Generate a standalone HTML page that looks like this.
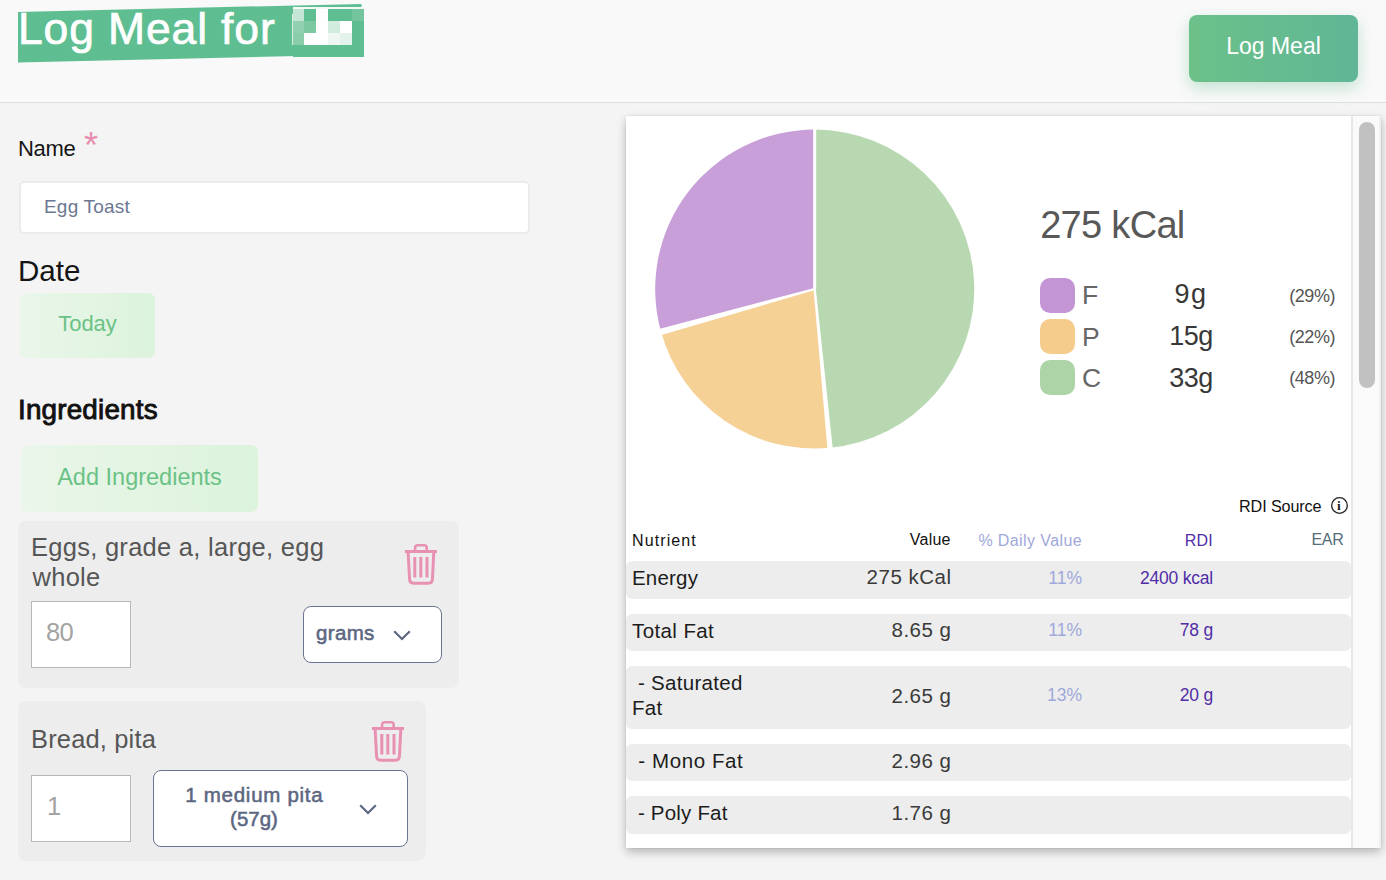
<!DOCTYPE html>
<html><head><meta charset="utf-8">
<style>
*{box-sizing:border-box;margin:0;padding:0}
html,body{width:1386px;height:880px;overflow:hidden;background:#f4f4f4;font-family:"Liberation Sans",sans-serif}
.t{position:absolute;white-space:nowrap;line-height:1}
.ab{position:absolute}
.mz{position:absolute}
#hdr{position:absolute;left:0;top:0;width:1386px;height:103px;background:#f9f9f9;border-bottom:1px solid #dedede}
#logbtn{position:absolute;left:1189px;top:15px;width:169px;height:67px;border-radius:8px;background:linear-gradient(90deg,#6cc189,#60b695);box-shadow:0 6px 16px rgba(96,182,140,.35)}
#nameinp{position:absolute;left:19px;top:181px;width:511px;height:53px;background:#fff;border:2px solid #ebebeb;border-radius:5px}
.gbtn{position:absolute;border-radius:7px;background:linear-gradient(90deg,#eaf6ea,#dcf3dc)}
.card{position:absolute;background:#ededed;border-radius:8px}
.qty{position:absolute;background:#fff;border:1.2px solid #b8b8b8}
.sel{position:absolute;background:#fff;border:1.3px solid #6b7590;border-radius:8px}
#panel{position:absolute;left:626px;top:116px;width:755px;height:732px;background:#fff;box-shadow:0 4px 9px rgba(0,0,0,.26),0 0 2px rgba(0,0,0,.10)}
.row{position:absolute;left:626px;width:725px;background:#ededed;border-radius:6px}
.sw{position:absolute;left:1040px;width:35px;height:34.5px;border-radius:10px}
</style></head><body>
<div id="hdr"></div>
<svg class="ab" style="left:0;top:0" width="400" height="70"><polygon points="18,11.9 361.5,3.9 361.5,54.6 18,62.6" fill="#5fbe91"/></svg>
<div class="mz" style="left:293px;top:9px;width:11px;height:12px;background:#c6e6d5"></div>
<div class="mz" style="left:304px;top:9px;width:12px;height:12px;background:#5fbe91"></div>
<div class="mz" style="left:316px;top:9px;width:12px;height:12px;background:#fdfefd"></div>
<div class="mz" style="left:328px;top:9px;width:12px;height:12px;background:#5fbe91"></div>
<div class="mz" style="left:340px;top:9px;width:12px;height:12px;background:#5fbe91"></div>
<div class="mz" style="left:352px;top:9px;width:12px;height:12px;background:#72c59d"></div>
<div class="mz" style="left:293px;top:21px;width:11px;height:12px;background:#91d1b1"></div>
<div class="mz" style="left:304px;top:21px;width:12px;height:12px;background:#7bc8a1"></div>
<div class="mz" style="left:316px;top:21px;width:12px;height:12px;background:#ffffff"></div>
<div class="mz" style="left:328px;top:21px;width:12px;height:12px;background:#d3ece0"></div>
<div class="mz" style="left:340px;top:21px;width:12px;height:12px;background:#ffffff"></div>
<div class="mz" style="left:352px;top:21px;width:12px;height:12px;background:#5fbe91"></div>
<div class="mz" style="left:293px;top:33px;width:11px;height:12px;background:#89cdaa"></div>
<div class="mz" style="left:304px;top:33px;width:12px;height:12px;background:#ffffff"></div>
<div class="mz" style="left:316px;top:33px;width:12px;height:12px;background:#ffffff"></div>
<div class="mz" style="left:328px;top:33px;width:12px;height:12px;background:#eef7f2"></div>
<div class="mz" style="left:340px;top:33px;width:12px;height:12px;background:#e3f2ea"></div>
<div class="mz" style="left:352px;top:33px;width:12px;height:12px;background:#5fbe91"></div>
<div class="mz" style="left:293px;top:45px;width:11px;height:12px;background:#5fbe91"></div>
<div class="mz" style="left:304px;top:45px;width:12px;height:12px;background:#5fbe91"></div>
<div class="mz" style="left:316px;top:45px;width:12px;height:12px;background:#5fbe91"></div>
<div class="mz" style="left:328px;top:45px;width:12px;height:12px;background:#5fbe91"></div>
<div class="mz" style="left:340px;top:45px;width:12px;height:12px;background:#5fbe91"></div>
<div class="mz" style="left:352px;top:45px;width:12px;height:12px;background:#5fbe91"></div>
<div class="mz" style="left:293px;top:7px;width:71px;height:2px;background:#f3faf6"></div>
<div class="mz" style="left:292px;top:14px;width:1px;height:31px;background:rgba(255,255,255,.75)"></div>
<div id="logbtn"></div>
<div id="nameinp"></div>
<div class="gbtn" style="left:20px;top:293px;width:135px;height:65px"></div>
<div class="gbtn" style="left:21px;top:445px;width:237px;height:67px"></div>
<div class="card" style="left:18px;top:521px;width:441px;height:167px"></div>
<div class="qty" style="left:31px;top:601px;width:100px;height:67px"></div>
<div class="sel" style="left:303px;top:606px;width:139px;height:57px"></div>
<svg class="ab" style="left:404px;top:543px" width="34" height="44" viewBox="0 0 34 44" fill="none" stroke="#e991b2">
<path d="M0.9,8.4 H33" stroke-width="3"/>
<path d="M11.1,7.2 V4.8 Q11.1,2.2 13.7,2.2 H20.1 Q22.7,2.2 22.7,4.8 V7.2" stroke-width="2.6"/>
<path d="M4.1,9.5 L5.6,36.5 Q5.9,40.3 9.5,40.3 H24.5 Q28.1,40.3 28.4,36.5 L29.8,9.5" stroke-width="3"/>
<path d="M10.8,14 V34.6 M16.8,14 V34.6 M23,14 V34.6" stroke-width="3"/>
</svg>
<svg class="ab" style="left:393px;top:630px" width="18" height="11" viewBox="0 0 18 11" fill="none" stroke="#5d6781" stroke-width="2.2"><path d="M1.2,1.2 L9,9 L16.8,1.2"/></svg>
<div class="card" style="left:18px;top:701px;width:408px;height:160px"></div>
<div class="qty" style="left:31px;top:775px;width:100px;height:67px"></div>
<div class="sel" style="left:153px;top:770px;width:255px;height:77px"></div>
<svg class="ab" style="left:370.6px;top:719.6px" width="34" height="44" viewBox="0 0 34 44" fill="none" stroke="#e991b2">
<path d="M0.9,8.4 H33" stroke-width="3"/>
<path d="M11.1,7.2 V4.8 Q11.1,2.2 13.7,2.2 H20.1 Q22.7,2.2 22.7,4.8 V7.2" stroke-width="2.6"/>
<path d="M4.1,9.5 L5.6,36.5 Q5.9,40.3 9.5,40.3 H24.5 Q28.1,40.3 28.4,36.5 L29.8,9.5" stroke-width="3"/>
<path d="M10.8,14 V34.6 M16.8,14 V34.6 M23,14 V34.6" stroke-width="3"/>
</svg>
<svg class="ab" style="left:359px;top:804px" width="18" height="11" viewBox="0 0 18 11" fill="none" stroke="#5d6781" stroke-width="2.2"><path d="M1.2,1.2 L9,9 L16.8,1.2"/></svg>
<div id="panel"></div>
<svg class="ab" style="left:0;top:0" width="1386" height="880">
<path d="M814.7,289.1 L814.70,129.60 A159.5,159.5 0 0 1 829.99,447.87 Z" fill="#b8d8b2"/>
<path d="M814.7,289.1 L829.99,447.87 A159.5,159.5 0 0 1 661.00,331.72 Z" fill="#f6d196"/>
<path d="M814.7,289.1 L661.00,331.72 A159.5,159.5 0 0 1 814.70,129.60 Z" fill="#c89fd8"/>
<polygon points="816.20,289.10 816.20,126.60 813.20,126.60 813.20,289.10" fill="#fff"/>
<polygon points="813.56,289.21 827.59,451.11 832.96,450.59 815.84,288.99" fill="#fff"/>
<polygon points="814.42,288.09 657.24,329.39 658.98,335.66 814.98,290.11" fill="#fff"/>
<circle cx="1339.5" cy="505.5" r="7.8" fill="none" stroke="#222" stroke-width="1.3"/>
</svg>
<div class="sw" style="top:278px;background:#c495d5"></div>
<div class="sw" style="top:319px;background:#f6cc8c"></div>
<div class="sw" style="top:360px;background:#acd4a6"></div>
<div class="row" style="top:561px;height:38px"></div>
<div class="row" style="top:614px;height:37px"></div>
<div class="row" style="top:666px;height:63px"></div>
<div class="row" style="top:744px;height:37px"></div>
<div class="row" style="top:796px;height:38px"></div>
<div class="ab" style="left:1351px;top:116px;width:30px;height:732px;background:#fafafa;border-left:2px solid #e7e7e7;border-right:2px solid #efefef"></div>
<div class="ab" style="left:1359px;top:122px;width:16px;height:266px;border-radius:8px;background:#c1c1c1"></div>
<div class="t" id="title" style="left:18px;top:6.63px;font-size:44.5px;color:#fff;letter-spacing:0.85px;-webkit-text-stroke:0.7px #fff">Log Meal for</div>
<div class="t" id="btn" style="left:1189px;top:35.33px;font-size:23px;color:#fff;width:169px;text-align:center;">Log Meal</div>
<div class="t" id="name" style="left:18px;top:138.08px;font-size:22px;color:#151515;letter-spacing:-0.3px">Name</div>
<div class="t" id="ast" style="left:84px;top:128.33px;font-size:36px;color:#e88db0;">*</div>
<div class="t" id="egg" style="left:44px;top:196.92px;font-size:19px;color:#6b7890;letter-spacing:0.2px">Egg Toast</div>
<div class="t" id="date" style="left:18px;top:255.73px;font-size:29.5px;color:#151515;letter-spacing:0px">Date</div>
<div class="t" id="today" style="left:20px;top:313.38px;font-size:22px;color:#6bc286;width:135px;text-align:center;">Today</div>
<div class="t" id="ingr" style="left:18px;top:395.67px;font-size:27.8px;color:#111;-webkit-text-stroke:0.9px #111;letter-spacing:0.2px">Ingredients</div>
<div class="t" id="add" style="left:21px;top:465.71px;font-size:23.5px;color:#6bc286;width:237px;text-align:center;letter-spacing:0px">Add Ingredients</div>
<div class="t" id="eggs" style="left:31px;top:534.81px;font-size:25.5px;color:#565656;letter-spacing:0.27px">Eggs, grade a, large, egg</div>
<div class="t" id="whole" style="left:32.5px;top:565.41px;font-size:25.5px;color:#565656;letter-spacing:0.27px">whole</div>
<div class="t" id="q80" style="left:46px;top:619.51px;font-size:25.5px;color:#a3a3a3;letter-spacing:-0.8px">80</div>
<div class="t" id="grams" style="left:316px;top:623.45px;font-size:20.5px;color:#5d6781;-webkit-text-stroke:0.55px #5d6781;letter-spacing:0.35px">grams</div>
<div class="t" id="bread" style="left:31px;top:726.71px;font-size:25.5px;color:#565656;letter-spacing:0.15px">Bread, pita</div>
<div class="t" id="q1" style="left:47px;top:793.81px;font-size:25.5px;color:#a3a3a3;">1</div>
<div class="t" id="pita1" style="left:154px;top:785.05px;font-size:20.5px;color:#5d6781;width:200.7px;text-align:center;-webkit-text-stroke:0.55px #5d6781;letter-spacing:0.72px">1 medium pita</div>
<div class="t" id="pita2" style="left:154px;top:809.35px;font-size:20.5px;color:#5d6781;width:200px;text-align:center;-webkit-text-stroke:0.55px #5d6781">(57g)</div>
<div class="t" id="kcal" style="left:1040.2px;top:205.83px;font-size:38px;color:#585858;letter-spacing:-0.7px">275 kCal</div>
<div class="t" id="legF" style="left:1082px;top:281.87px;font-size:26.5px;color:#666;">F</div>
<div class="t" id="legP" style="left:1082px;top:323.67px;font-size:26.5px;color:#666;">P</div>
<div class="t" id="legC" style="left:1082px;top:364.77px;font-size:26.5px;color:#666;">C</div>
<div class="t" id="val9g" style="left:1150px;top:281.44px;font-size:27px;color:#383838;width:82px;text-align:center;letter-spacing:1.6px">9g</div>
<div class="t" id="val15g" style="left:1150px;top:323.24px;font-size:27px;color:#383838;width:82px;text-align:center;letter-spacing:-0.5px">15g</div>
<div class="t" id="val33g" style="left:1150px;top:364.64px;font-size:27px;color:#383838;width:82px;text-align:center;letter-spacing:-0.5px">33g</div>
<div class="t" id="pct(29%)" style="left:1250px;top:286.76px;font-size:18px;color:#555;width:85px;text-align:right;letter-spacing:-0.45px">(29%)</div>
<div class="t" id="pct(22%)" style="left:1250px;top:327.66px;font-size:18px;color:#555;width:85px;text-align:right;letter-spacing:-0.45px">(22%)</div>
<div class="t" id="pct(48%)" style="left:1250px;top:369.46px;font-size:18px;color:#555;width:85px;text-align:right;letter-spacing:-0.45px">(48%)</div>
<div class="t" id="rdisrc" style="left:1239px;top:498.29px;font-size:16.2px;color:#111;letter-spacing:-0.12px">RDI Source</div>
<div class="t" id="hN" style="left:632px;top:532.66px;font-size:16px;color:#111;letter-spacing:1.1px">Nutrient</div>
<div class="t" id="hV" style="left:850px;top:532.46px;font-size:16px;color:#111;width:100.6px;text-align:right;letter-spacing:0.2px">Value</div>
<div class="t" id="hD" style="left:950px;top:532.76px;font-size:16px;color:#9fa8da;width:132px;text-align:right;letter-spacing:0.4px">% Daily Value</div>
<div class="t" id="hR" style="left:1100px;top:532.96px;font-size:16px;color:#512da8;width:113px;text-align:right;letter-spacing:0.2px">RDI</div>
<div class="t" id="hE" style="left:1240px;top:532.46px;font-size:16px;color:#546e7a;width:103.5px;text-align:right;letter-spacing:-0.3px">EAR</div>
<div class="t" id="rn0" style="left:632px;top:567.75px;font-size:20.5px;color:#1c1c1c;letter-spacing:0.2px">Energy</div>
<div class="t" id="rv0" style="left:800px;top:567.45px;font-size:20.5px;color:#3a3a3a;width:151.5px;text-align:right;letter-spacing:0.5px">275 kCal</div>
<div class="t" id="rd0" style="left:950px;top:569.99px;font-size:17.5px;color:#9fa8da;width:132px;text-align:right;">11%</div>
<div class="t" id="rr0" style="left:1100px;top:569.99px;font-size:17.5px;color:#512da8;width:113px;text-align:right;letter-spacing:-0.2px">2400 kcal</div>
<div class="t" id="rn1" style="left:632px;top:620.85px;font-size:20.5px;color:#1c1c1c;letter-spacing:0.4px">Total Fat</div>
<div class="t" id="rv1" style="left:800px;top:620.35px;font-size:20.5px;color:#3a3a3a;width:151.5px;text-align:right;letter-spacing:0.5px">8.65 g</div>
<div class="t" id="rd1" style="left:950px;top:621.69px;font-size:17.5px;color:#9fa8da;width:132px;text-align:right;">11%</div>
<div class="t" id="rr1" style="left:1100px;top:621.69px;font-size:17.5px;color:#512da8;width:113px;text-align:right;letter-spacing:-0.2px">78 g</div>
<div class="t" id="rn2" style="left:632px;top:671.35px;font-size:20.5px;color:#1c1c1c;letter-spacing:0.3px;line-height:24.5px">&nbsp;- Saturated<br>Fat</div>
<div class="t" id="rv2" style="left:800px;top:685.65px;font-size:20.5px;color:#3a3a3a;width:151.5px;text-align:right;letter-spacing:0.5px">2.65 g</div>
<div class="t" id="rd2" style="left:950px;top:687.09px;font-size:17.5px;color:#9fa8da;width:132px;text-align:right;">13%</div>
<div class="t" id="rr2" style="left:1100px;top:687.09px;font-size:17.5px;color:#512da8;width:113px;text-align:right;letter-spacing:-0.2px">20 g</div>
<div class="t" id="rn3" style="left:632px;top:750.85px;font-size:20.5px;color:#1c1c1c;letter-spacing:0.6px">&nbsp;- Mono Fat</div>
<div class="t" id="rv3" style="left:800px;top:750.65px;font-size:20.5px;color:#3a3a3a;width:151.5px;text-align:right;letter-spacing:0.5px">2.96 g</div>
<div class="t" id="rn4" style="left:632px;top:802.95px;font-size:20.5px;color:#1c1c1c;letter-spacing:0.2px">&nbsp;- Poly Fat</div>
<div class="t" id="rv4" style="left:800px;top:802.55px;font-size:20.5px;color:#3a3a3a;width:151.5px;text-align:right;letter-spacing:0.5px">1.76 g</div>
<div class="t" id="info" style="left:1337px;top:498.5px;font-family:'Liberation Serif',serif;font-weight:bold;font-size:13.5px;line-height:14px;color:#222">i</div>
</body></html>
